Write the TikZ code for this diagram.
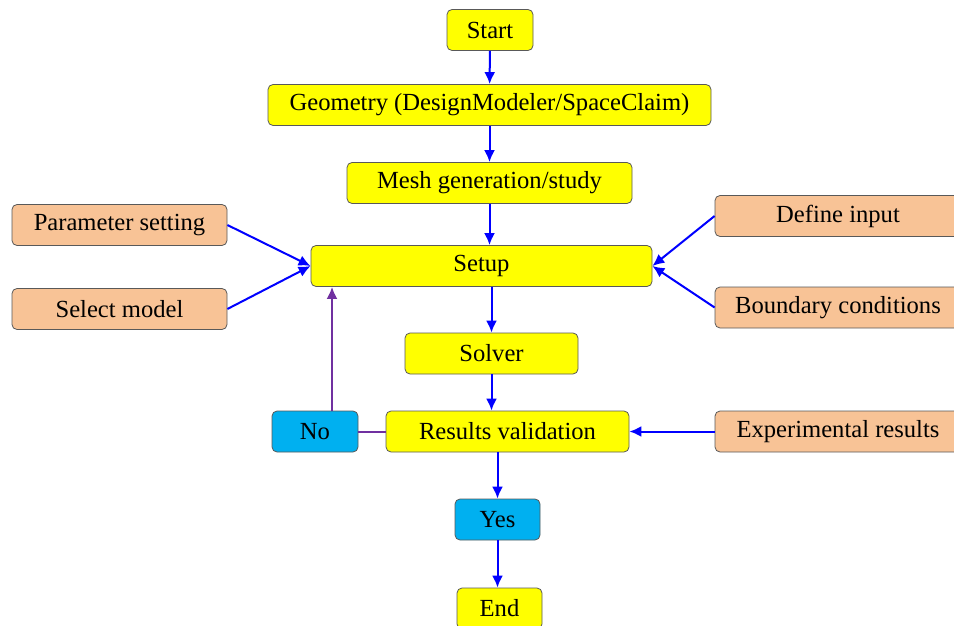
\documentclass[tikz,border=0pt]{standalone}
\usepackage{fontspec}
\setmainfont{Liberation Serif}
\usepackage{xcolor}
\usetikzlibrary{arrows.meta}
\definecolor{stepyellow}{HTML}{FFFF00}
\definecolor{inpeach}{HTML}{F8C396}
\definecolor{decblue}{HTML}{00B0F0}
\definecolor{flowblue}{HTML}{0000FF}
\definecolor{loopviolet}{HTML}{7030A0}
\tikzset{
  box/.style={draw=black!65,rounded corners=2.5pt,minimum height=20.5pt,inner sep=0pt,font=\fontsize{12.3}{14}\selectfont},
  stepbox/.style={box,fill=stepyellow},
  inbox/.style={box,fill=inpeach},
  decbox/.style={box,fill=decblue},
  flow/.style={draw=flowblue,line width=1pt,-{Latex[length=6pt,width=5.5pt]}},
  backline/.style={draw=loopviolet,line width=1pt}
}

\begin{document}
\begin{tikzpicture}[x=0.5pt,y=-0.5pt]
\useasboundingbox (0,0) rectangle (954,626);
% main chain
\node[stepbox,minimum width=43pt] (start) at (490,30) {Start};
\node[stepbox,minimum width=221.5pt] (geom) at (489.5,105) {Geometry (DesignModeler/SpaceClaim)};
\node[stepbox,minimum width=142.5pt] (mesh) at (489.5,183) {Mesh generation/study};
\node[stepbox,minimum width=170.5pt] (setup) at (481.5,266) {Setup};
\node[stepbox,minimum width=86.5pt] (solver) at (491.5,353.5) {Solver};
\node[stepbox,minimum width=121.5pt] (valid) at (507.5,431.5) {Results validation};
\node[decbox,minimum width=43pt] (no) at (315,431.5) {No};
\node[decbox,minimum width=42.5pt] (yes) at (497.5,519.5) {Yes};
\node[stepbox,minimum width=42.5pt] (end) at (499.5,608.5) {End};
% inputs
\node[inbox,minimum width=107.5pt] (param) at (119.5,225) {Parameter setting};
\node[inbox,minimum width=107.5pt] (select) at (119.5,309) {Select model};
\node[inbox,minimum width=123pt] (define) at (838,216) {Define input};
\node[inbox,minimum width=123pt] (bound) at (838,307.5) {Boundary conditions};
\node[inbox,minimum width=123pt] (exper) at (838,431.5) {Experimental results};
% connectors
\draw[flow] (start) -- (geom);
\draw[flow] (geom) -- (mesh);
\draw[flow] (mesh.south) -- (mesh.south |- setup.north);
\draw[flow] (solver.north |- setup.south) -- (solver.north);
\draw[flow] (solver.south) -- (solver.south |- valid.north);
\draw[flow] (yes.north |- valid.south) -- (yes.north);
\draw[flow] (yes.south) -- (yes.south |- end.north);
\draw[flow] (param.east) -- (setup.west);
\draw[flow] (select.east) -- (setup.west);
\draw[flow] (define.west) -- (setup.east);
\draw[flow] (bound.west) -- (setup.east);
\draw[flow] (exper.west) -- (valid.east);
\draw[backline] (valid.west) -- (no.east);
\draw[backline,-{Latex[length=6pt,width=5.5pt]}] ([xshift=8.5pt]no.north) -- ([xshift=8.5pt]no.north |- setup.south);
\end{tikzpicture}
\end{document}
